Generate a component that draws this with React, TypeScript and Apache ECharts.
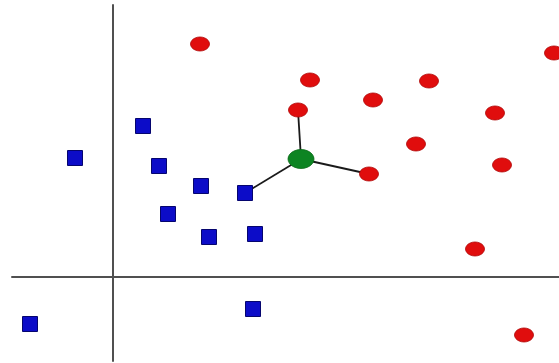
import React, { useEffect, useRef } from "react";
import * as echarts from "echarts";

// Data in abstract units; axes cross at (0, 0)
const redPoints: [number, number][] = [
  [8.7, 23.3],
  [19.7, 19.7],
  [18.5, 16.7],
  [26.0, 17.7],
  [31.6, 19.6],
  [44.1, 22.4],
  [38.2, 16.4],
  [30.3, 13.3],
  [38.9, 11.2],
  [25.6, 10.3],
  [36.2, 2.8],
  [41.1, -5.8],
];

const bluePoints: [number, number][] = [
  [3.0, 15.1],
  [-3.8, 11.9],
  [4.6, 11.1],
  [8.8, 9.1],
  [13.2, 8.4],
  [5.5, 6.3],
  [9.6, 4.0],
  [14.2, 4.3],
  [14.0, -3.2],
  [-8.3, -4.7],
];

const queryPoint: [number, number] = [18.8, 11.8];

// nearest neighbours of the query point
const neighbours: [number, number][] = [
  [18.5, 16.7],
  [25.6, 10.3],
  [13.2, 8.4],
];

const xRange = [-10.1, 44.6];
const yRange = [-8.4, 27.2];

export default function App() {
  const ref = useRef<HTMLDivElement>(null);
  useEffect(() => {
    if (!ref.current) return;
    const chart = echarts.init(ref.current, null, { renderer: "svg" });
    const axisCommon = {
      type: "value" as const,
      axisLine: { show: true, onZero: true, lineStyle: { color: "#505050", width: 2 } },
      axisTick: { show: false },
      axisLabel: { show: false },
      splitLine: { show: false },
    };
    chart.setOption({
      animation: false,
      backgroundColor: "#ffffff",
      grid: { left: 12, right: 0, top: 5, bottom: 2 },
      xAxis: { ...axisCommon, min: xRange[0], max: xRange[1] },
      yAxis: { ...axisCommon, min: yRange[0], max: yRange[1] },
      series: [
        {
          type: "lines",
          coordinateSystem: "cartesian2d",
          z: 1,
          lineStyle: { color: "#1a1a1a", width: 1.8, opacity: 1 },
          data: neighbours.map((n) => ({ coords: [queryPoint, n] })),
        },
        {
          type: "scatter",
          z: 3,
          symbol: "rect",
          symbolSize: [15, 15],
          itemStyle: { color: "#0c0cc8", borderColor: "#05056e", borderWidth: 1, opacity: 1 },
          data: bluePoints,
        },
        {
          type: "scatter",
          z: 3,
          symbol: "circle",
          symbolSize: [19, 14],
          itemStyle: { color: "#e00d0d", borderColor: "#b00a0a", borderWidth: 0.8, opacity: 1 },
          data: redPoints,
        },
        {
          type: "scatter",
          z: 4,
          symbol: "circle",
          symbolSize: [26, 19],
          itemStyle: { color: "#0d8422", borderColor: "#0a6a18", borderWidth: 0.8, opacity: 1 },
          data: [queryPoint],
        },
      ],
    });
    return () => chart.dispose();
  }, []);
  return (
    <div
      ref={ref}
      style={{ position: "fixed", left: 0, top: 0, width: 559, height: 363, background: "#fff" }}
    />
  );
}
